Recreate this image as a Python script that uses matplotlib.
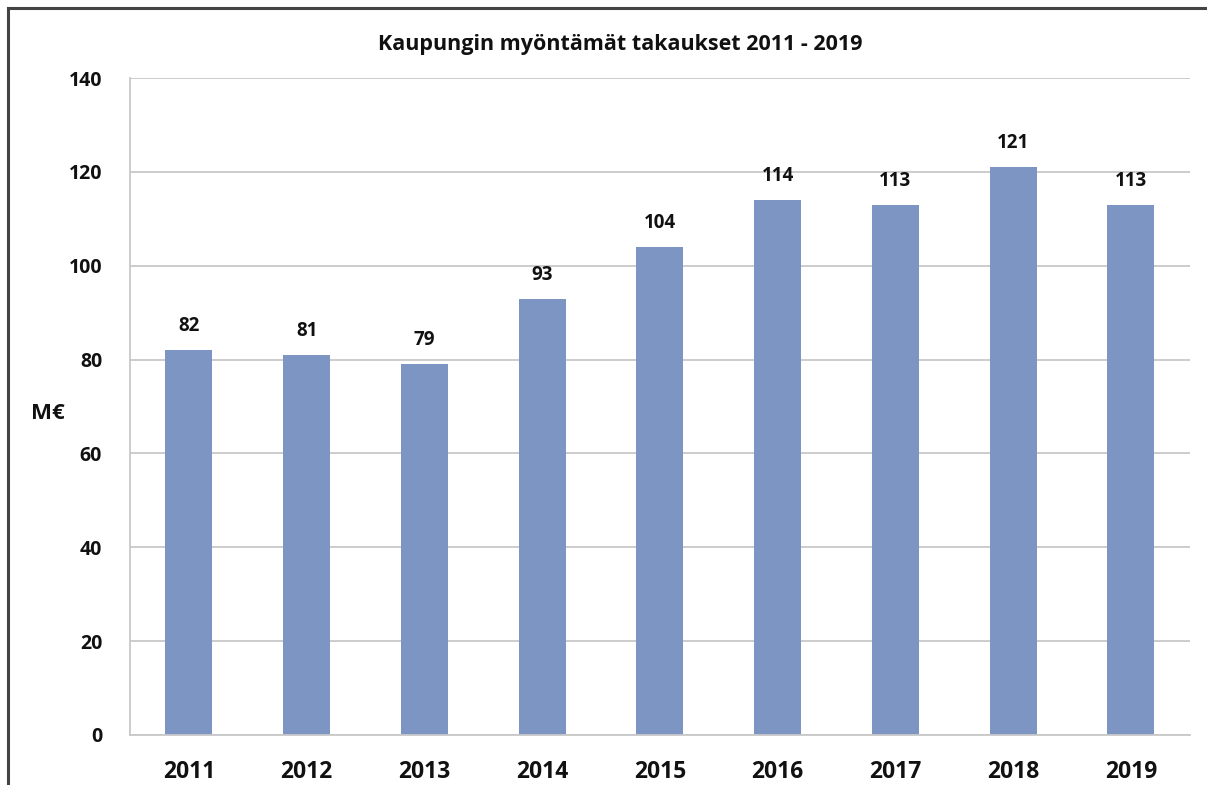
import matplotlib.pyplot as plt
from matplotlib.lines import Line2D

# data
years = ['2011', '2012', '2013', '2014', '2015', '2016', '2017', '2018', '2019']
values = [82, 81, 79, 93, 104, 114, 113, 121, 113]
labels = ['82', '81', '79', '93', '104', '114', '113', '121', '113']
yticks = [0, 20, 40, 60, 80, 100, 120, 140]

plt.rcParams['font.family'] = ['Open Sans', 'DejaVu Sans']

fig = plt.figure(figsize=(12.07, 7.85), dpi=100)
ax = fig.add_axes([0.1077, 0.0637, 0.878, 0.8369])

x = range(len(years))
ax.bar(x, values, width=0.4, color='#7D95C3', zorder=2)

for i, v in enumerate(values):
    ax.text(i, v + 3, labels[i], ha='center', va='bottom',
            fontsize=13.5, fontweight='bold', color='#111111')

ax.set_ylim(0, 140)
ax.set_xlim(-0.5, len(years) - 0.5)
ax.set_yticks(yticks)
ax.set_yticklabels([str(t) for t in yticks], fontsize=14, fontweight='bold')
ax.set_xticks(list(x))
ax.set_xticklabels(years, fontsize=16.5, fontweight='bold')
ax.tick_params(axis='both', length=0, colors='#111111')
ax.tick_params(axis='y', pad=20)
ax.tick_params(axis='x', pad=18)

ax.grid(axis='y', color='#C8C8C8', linewidth=1.3, zorder=0)
for s in ['top', 'right']:
    ax.spines[s].set_visible(False)
ax.spines['left'].set_color('#C8C8C8')
ax.spines['bottom'].set_color('#C8C8C8')
ax.spines['left'].set_linewidth(1.3)
ax.spines['bottom'].set_linewidth(1.3)

fig.text(0.514, 0.943, 'Kaupungin myöntämät takaukset 2011 - 2019',
         ha='center', va='center', fontsize=15.5, fontweight='bold',
         color='#111111')
fig.text(0.040, 0.473, 'M€', ha='center', va='center', fontsize=16,
         fontweight='bold', color='#111111')

# frame lines of the cropped screenshot
fig.add_artist(Line2D([8 / 1207, 1], [1 - 8 / 785, 1 - 8 / 785],
                      color='#444444', linewidth=2.2))
fig.add_artist(Line2D([8 / 1207, 8 / 1207], [0, 1 - 8 / 785],
                      color='#444444', linewidth=2.2))

plt.savefig('out.png', dpi=100)
